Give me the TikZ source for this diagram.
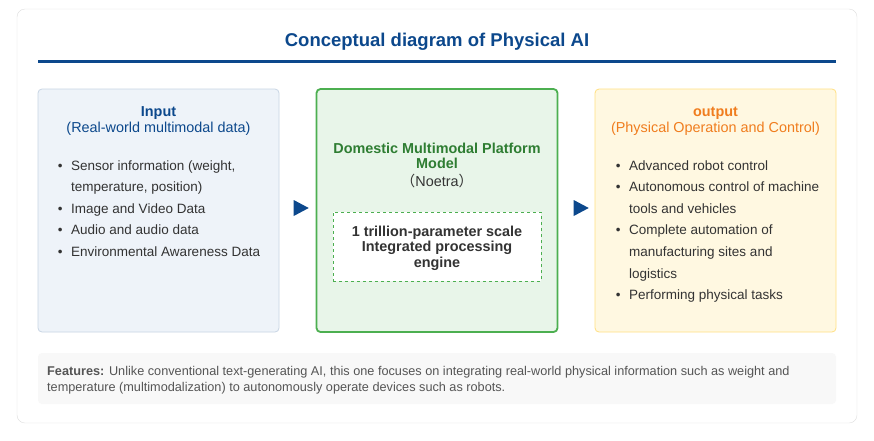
\documentclass[tikz,border=0pt]{standalone}
\usepackage{fontspec}
\setmainfont{Liberation Sans}
\newfontfamily\cjk{Noto Sans CJK JP}
\usetikzlibrary{shapes.geometric}
\definecolor{diagBlue}{RGB}{12,72,140}
\definecolor{frameLine}{RGB}{221,221,221}
\definecolor{inFill}{RGB}{238,243,249}
\definecolor{inLine}{RGB}{200,213,228}
\definecolor{modFill}{RGB}{232,245,233}
\definecolor{modLine}{RGB}{76,175,80}
\definecolor{modText}{RGB}{46,125,50}
\definecolor{outFill}{RGB}{255,248,225}
\definecolor{outLine}{RGB}{255,224,130}
\definecolor{outText}{RGB}{240,125,30}
\definecolor{noteFill}{RGB}{248,248,248}
\definecolor{noteText}{RGB}{85,85,85}
\definecolor{bodyText}{RGB}{51,51,51}
\newcommand\bul{\llap{\textbullet\hspace{8.5pt}}}

\begin{document}
\begin{tikzpicture}[x=1pt,y=-1pt,
  panel/.style={rounded corners=4pt,minimum width=241pt,minimum height=243pt,inner sep=0pt},
  headTxt/.style={anchor=base,inner sep=0pt,font=\fontsize{14.4}{17}\selectfont},
  headBold/.style={headTxt,font=\bfseries\fontsize{14.4}{17}\selectfont},
  itemTxt/.style={anchor=base west,inner sep=0pt,text=bodyText,font=\fontsize{13.5}{16}\selectfont},
  flowTri/.style={isosceles triangle,isosceles triangle apex angle=56,fill=diagBlue,inner sep=0pt,minimum height=15pt,minimum width=16pt}]
\useasboundingbox (0,0) rectangle (874,440);
\draw[frameLine,fill=white,rounded corners=8pt] (17,9) rectangle (857,423);
\node[anchor=base,inner sep=0pt,text=diagBlue,font=\bfseries\fontsize{18.5}{22}\selectfont] (title) at (437,46) {Conceptual diagram of Physical AI};
\draw[diagBlue,line width=2.2pt] (38,61.5) -- (836,61.5);

% three panels
\node[panel,fill=inFill,draw=inLine,line width=0.8pt] (input) at (158.5,210.5) {};
\node[panel,fill=modFill,draw=modLine,line width=1.8pt] (model) at (437,210.5) {};
\node[panel,fill=outFill,draw=outLine,line width=0.8pt] (output) at (715.5,210.5) {};
\node[flowTri] (arrowA) at (298.5,208) {};
\node[flowTri] (arrowB) at (578.5,208) {};

% input
\node[headBold,text=diagBlue] (inHead) at (158.5,116.5) {Input};
\node[headTxt,text=diagBlue] (inSub) at (158.5,132.5) {(Real-world multimodal data)};
\foreach \n/\y/\txt in {a/170/{\bul Sensor information (weight,},b/191.5/{temperature, position)},
    c/213/{\bul Image and Video Data},d/234.7/{\bul Audio and audio data},e/256.3/{\bul Environmental Awareness Data}}
  \node[itemTxt] (in-\n) at (71,\y) {\txt};

% model
\node[headBold,text=modText] (modHead) at (437,153) {Domestic Multimodal Platform};
\node[headBold,text=modText] (modHeadB) at (437,168.5) {Model};
\node[headTxt,text=bodyText] (modSub) at (437,186) {{\cjk （}Noetra{\cjk ）}};
\node[draw=modLine,dashed,fill=white,minimum width=208pt,minimum height=69pt,inner sep=0pt] (engine) at (437,246.5) {};
\foreach \n/\y/\txt in {a/236/{1 trillion-parameter scale},b/251.5/{Integrated processing},c/267/{engine}}
  \node[headBold,text=bodyText] (eng-\n) at (437,\y) {\txt};

% output
\node[headBold,text=outText] (outHead) at (715.5,116.5) {output};
\node[headTxt,text=outText] (outSub) at (715.5,132.5) {(Physical Operation and Control)};
\foreach \n/\y/\txt in {a/170/{\bul Advanced robot control},b/191.5/{\bul Autonomous control of machine},
    c/213/{tools and vehicles},d/234.7/{\bul Complete automation of},e/256.3/{manufacturing sites and},
    f/278/{logistics},g/299.5/{\bul Performing physical tasks}}
  \node[itemTxt] (out-\n) at (629,\y) {\txt};

% features
\node[fill=noteFill,rounded corners=4pt,minimum width=798pt,minimum height=51pt,inner sep=0pt] (note) at (437,378.5) {};
\node[itemTxt,text=noteText,font=\fontsize{12.7}{15}\selectfont] (noteA) at (47,375) {\textbf{Features:} Unlike conventional text-generating AI, this one focuses on integrating real-world physical information such as weight and};
\node[itemTxt,text=noteText,font=\fontsize{12.7}{15}\selectfont] (noteB) at (47,391) {temperature (multimodalization) to autonomously operate devices such as robots.};
\end{tikzpicture}
\end{document}
